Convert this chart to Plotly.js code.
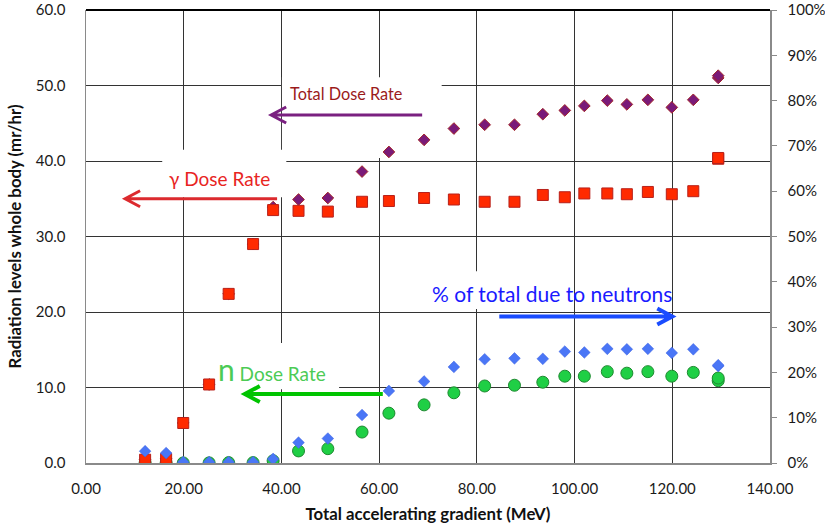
<!DOCTYPE html>
<html><head><meta charset="utf-8">
<script src="https://cdn.plot.ly/plotly-3.0.1.min.js"></script>
<style>html,body{margin:0;padding:0;background:#fff}#chart{width:825px;height:525px}</style>
</head><body><div id="chart"></div>
<script>
// Total accelerating gradient (MeV)
const gradient = [12.1, 16.4, 19.9, 25.2, 29.2, 34.2, 38.3, 43.5, 49.5, 56.5, 62.0, 69.2, 75.3, 81.6, 87.7, 93.5, 98.0, 102.0, 106.7, 110.7, 115.0, 119.9, 124.3, 129.4, 129.4];
// Dose rates (mr/hr)
const totalDose = [0.46, 0.55, 5.3, 10.4, 22.4, 29.0, 33.9, 34.9, 35.1, 38.6, 41.2, 42.8, 44.3, 44.8, 44.8, 46.2, 46.7, 47.3, 48.0, 47.5, 48.1, 47.1, 48.1, 51.0, 51.3];
const gammaDose = [0.44, 0.53, 5.3, 10.4, 22.4, 29.0, 33.5, 33.4, 33.3, 34.6, 34.7, 35.1, 34.9, 34.6, 34.6, 35.5, 35.2, 35.7, 35.7, 35.6, 35.9, 35.6, 36.0, 40.3, 40.4];
const neutronDose = [0.01, 0.01, 0.01, 0.02, 0.05, 0.05, 0.3, 1.6, 1.9, 4.1, 6.6, 7.7, 9.3, 10.2, 10.3, 10.7, 11.5, 11.5, 12.1, 11.9, 12.1, 11.5, 12.0, 10.9, 11.25];
// % of total due to neutrons
const neutronPct = [0.026, 0.022, 0.002, 0.002, 0.002, 0.002, 0.009, 0.045, 0.054, 0.106, 0.159, 0.180, 0.212, 0.229, 0.231, 0.230, 0.246, 0.244, 0.252, 0.251, 0.252, 0.243, 0.251, 0.214, 0.216];

const FONT = 'Lato, "Open Sans", sans-serif';

const traces = [
  {x: gradient, y: totalDose, type: 'scatter', mode: 'markers', name: 'Total',
   marker: {symbol: 'diamond', size: 9, color: '#7a1a78', line: {color: '#a3262a', width: 1}}},
  {x: gradient, y: neutronDose, type: 'scatter', mode: 'markers', name: 'n',
   marker: {symbol: 'circle', size: 12, color: '#1fcf45', line: {color: '#1e8a30', width: 1}}},
  {x: gradient, y: gammaDose, type: 'scatter', mode: 'markers', name: 'gamma',
   marker: {symbol: 'square', size: 11, color: '#ff2a00', line: {color: '#b8201a', width: 1}}},
  {x: gradient, y: neutronPct, type: 'scatter', mode: 'markers', name: '%', yaxis: 'y2',
   marker: {symbol: 'diamond', size: 9, color: '#4a76f6', line: {color: '#3f63e0', width: 0.5}}}
];

function whiteBox(x0, x1, y0, y1) {
  return {type: 'rect', xref: 'x', yref: 'y', x0: x0, x1: x1, y0: y0, y1: y1,
          fillcolor: '#ffffff', line: {width: 0}, layer: 'between'};
}
function arrow(tipX, tipY, len, dir, color, width) {
  const s = dir < 0 ? 1 : -1;
  return {type: 'path', xref: 'x', yref: 'y', xsizemode: 'pixel', ysizemode: 'pixel',
          xanchor: tipX, yanchor: tipY,
          path: `M ${s*len},0 L 0,0 M ${s*15},8 L 0,0 L ${s*15},-8`,
          line: {color: color, width: width}, layer: 'above'};
}

const layout = {
  width: 825, height: 525,
  margin: {l: 86, r: 55, t: 10, b: 62},
  paper_bgcolor: '#ffffff', plot_bgcolor: '#ffffff',
  showlegend: false,
  font: {family: FONT, color: '#1a1a1a', size: 15},
  xaxis: {
    range: [0, 140], dtick: 20, tick0: 0, tickformat: '.2f',
    showgrid: true, gridcolor: '#333333', gridwidth: 1,
    showline: true, linecolor: '#8a8a8a', linewidth: 1.5, zeroline: false,
    ticks: '', ticklabelstandoff: 11,
    tickfont: {family: FONT, size: 15, color: '#1a1a1a'},
    title: {text: '<b>Total accelerating gradient (MeV)</b>', font: {family: FONT, size: 16.8, color: '#111'}, standoff: 12}
  },
  yaxis: {
    range: [0, 60], dtick: 10, tick0: 0, tickformat: '.1f',
    showgrid: true, gridcolor: '#333333', gridwidth: 1,
    showline: true, linecolor: '#8a8a8a', linewidth: 1.5, zeroline: false,
    ticks: '', ticklabelstandoff: 16,
    tickfont: {family: FONT, size: 15, color: '#1a1a1a'},
    title: {text: '<b>Radiation levels whole body (mr/hr)</b>', font: {family: FONT, size: 16.8, color: '#111'}, standoff: 10}
  },
  yaxis2: {
    overlaying: 'y', side: 'right', range: [0, 1], dtick: 0.1, tick0: 0, tickformat: '.0%',
    showgrid: false, zeroline: false,
    showline: true, linecolor: '#8a8a8a', linewidth: 1.5,
    ticks: 'outside', ticklen: 5, tickcolor: '#8a8a8a', tickwidth: 1, ticklabelstandoff: 8,
    tickfont: {family: FONT, size: 15, color: '#1a1a1a'}
  },
  shapes: [
    whiteBox(40.1, 72.8, 40.4, 51.1),
    whiteBox(15.6, 41.0, 35.2, 41.5),
    whiteBox(26.0, 51.8, 9.77, 15.9),
    whiteBox(70.0, 97.0, 20.4, 25.4),
    {type: 'line', xref: 'paper', yref: 'paper', x0: 0, x1: 1, y0: 1, y1: 1, line: {color: '#000', width: 2}},
    arrow(37.9, 46.1, 151, -1, '#7a2080', 3),
    arrow(8.0, 35.0, 152, -1, '#dc2a2e', 3),
    arrow(32.5, 9.13, 138, -1, '#00c400', 4),
    arrow(120.0, 19.4, 173, 1, '#1a4cff', 4)
  ],
  annotations: [
    {x: 53.3, y: 48.9, xref: 'x', yref: 'y', text: 'Total Dose Rate', showarrow: false,
     font: {family: FONT, size: 16.3, color: '#9b1b1b'}},
    {x: 27.4, y: 37.7, xref: 'x', yref: 'y', text: 'γ Dose Rate', showarrow: false,
     font: {family: FONT, size: 19, color: '#e8251f'}},
    {x: 38.1, y: 12.5, xref: 'x', yref: 'y', text: '<span style="font-size:30px">n</span> Dose Rate', showarrow: false,
     font: {family: FONT, size: 19, color: '#4ccb55'}},
    {x: 95.4, y: 22.5, xref: 'x', yref: 'y', text: '% of total due to neutrons', showarrow: false,
     font: {family: FONT, size: 21, color: '#1a1aff'}}
  ]
};

Plotly.newPlot('chart', traces, layout, {displayModeBar: false, staticPlot: true});
</script>
</body></html>
